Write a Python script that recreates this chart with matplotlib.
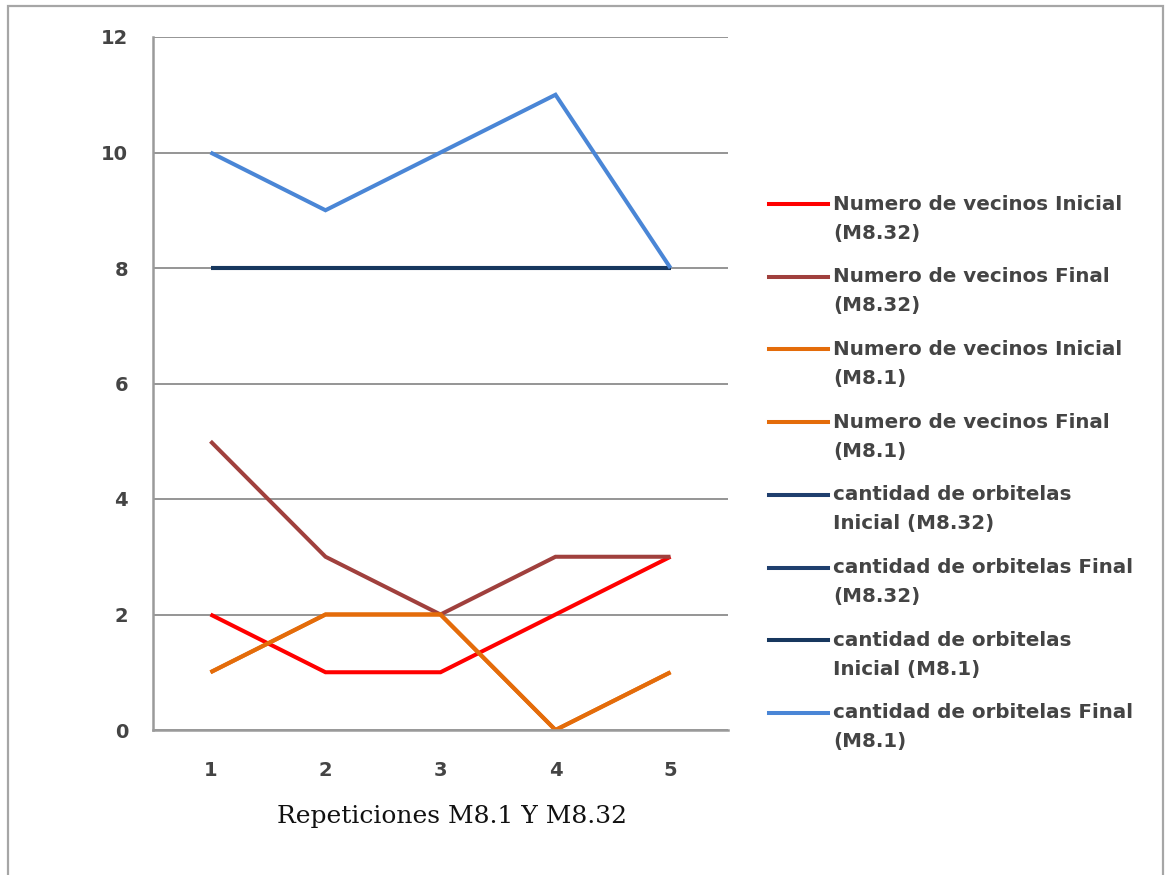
import matplotlib
matplotlib.use("Agg")
import matplotlib.pyplot as plt
from matplotlib.patches import Rectangle
from matplotlib.lines import Line2D

# Repetition index on the category axis
repeticiones = [1, 2, 3, 4, 5]

# Series values
vecinos_inicial_m832 = [2, 1, 1, 2, 3]
vecinos_final_m832 = [5, 3, 2, 3, 3]
vecinos_inicial_m81 = [1, 2, 2, 0, 1]
vecinos_final_m81 = [1, 2, 2, 0, 1]
orbitelas_inicial_m832 = [8, 8, 8, 8, 8]
orbitelas_final_m832 = [8, 8, 8, 8, 8]
orbitelas_inicial_m81 = [8, 8, 8, 8, 8]
orbitelas_final_m81 = [10, 9, 10, 11, 8]

series_labels = [
    "Numero de vecinos Inicial\n(M8.32)",
    "Numero de vecinos Final\n(M8.32)",
    "Numero de vecinos Inicial\n(M8.1)",
    "Numero de vecinos Final\n(M8.1)",
    "cantidad de orbitelas\nInicial (M8.32)",
    "cantidad de orbitelas Final\n(M8.32)",
    "cantidad de orbitelas\nInicial (M8.1)",
    "cantidad de orbitelas Final\n(M8.1)",
]
series_values = [
    vecinos_inicial_m832, vecinos_final_m832,
    vecinos_inicial_m81, vecinos_final_m81,
    orbitelas_inicial_m832, orbitelas_final_m832,
    orbitelas_inicial_m81, orbitelas_final_m81,
]
series_colors = [
    "#FF0000", "#A0403D", "#E46C0A", "#E46C0A",
    "#1F3F6E", "#1F3F6E", "#17375E", "#4A86D6",
]

y_ticks = [0, 2, 4, 6, 8, 10, 12]
x_title = "Repeticiones M8.1 Y M8.32"

W, H = 1165, 875
fig = plt.figure(figsize=(W / 100, H / 100), dpi=100)
fig.patch.set_facecolor("white")

# outer chart frame
fig.patches.append(Rectangle((8 / W, -0.01), (1163 - 8) / W, (H - 6) / H + 0.01,
                             transform=fig.transFigure, fill=False,
                             edgecolor="#A6A6A6", linewidth=1.6))

ax = fig.add_axes([153 / W, 1 - 730 / H, (728 - 153) / W, (730 - 37) / H])

for vals, col, lab in zip(series_values, series_colors, series_labels):
    ax.plot(repeticiones, vals, color=col, linewidth=2.9, label=lab,
            solid_joinstyle="miter", solid_capstyle="butt")

ax.set_xlim(0.5, 5.5)
ax.set_ylim(0, 12)
ax.set_yticks(y_ticks)
ax.set_xticks(repeticiones)
ax.grid(axis="y", color="#8C8C8C", linewidth=1.3)
ax.set_axisbelow(True)
for side in ("top", "right"):
    ax.spines[side].set_visible(False)
for side in ("left", "bottom"):
    ax.spines[side].set_color("#9A9A9A")
    ax.spines[side].set_linewidth(1.8)
ax.tick_params(length=0, labelsize=14, labelcolor="#444444")
ax.tick_params(axis="y", pad=18)
ax.tick_params(axis="x", pad=22)
for t in ax.get_xticklabels() + ax.get_yticklabels():
    t.set_fontfamily("DejaVu Sans")
    t.set_fontweight("bold")

fig.text(452 / W, 1 - 816 / H, x_title, ha="center", va="center",
         fontsize=18, family="DejaVu Serif", color="#111111")

# legend keys and labels, first text line level with its key
handles, labels = ax.get_legend_handles_labels()
key_x0, key_x1, text_x = 769 / W, 828 / W, 833 / W
first_y, pitch, line_gap = 204, 72.7, 29
for i, (h, lab) in enumerate(zip(handles, labels)):
    y_px = first_y + pitch * i
    fig.add_artist(Line2D([key_x0, key_x1], [1 - y_px / H] * 2,
                          transform=fig.transFigure,
                          color=h.get_color(), linewidth=2.9))
    for j, part in enumerate(lab.split("\n")):
        fig.text(text_x, 1 - (y_px + j * line_gap) / H, part, ha="left",
                 va="center", fontsize=14.3, fontweight="bold",
                 family="DejaVu Sans", color="#444444")

fig.savefig("out.png", dpi=100)
